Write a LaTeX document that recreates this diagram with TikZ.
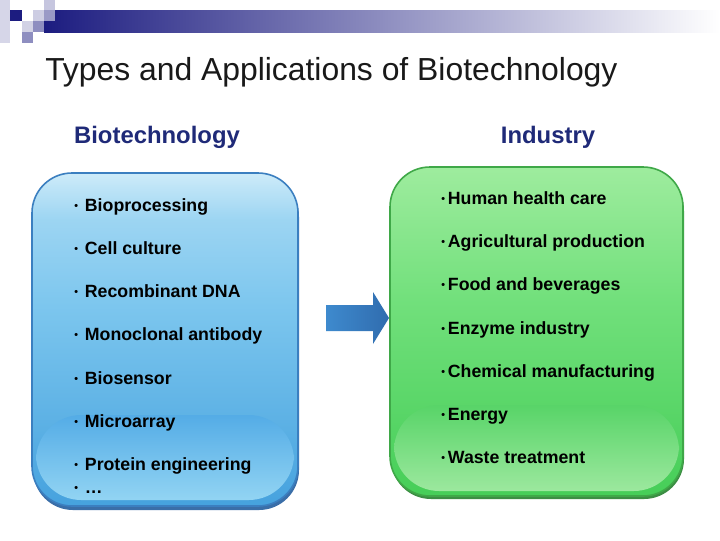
\documentclass[tikz,border=0pt]{standalone}
\usepackage{fontspec}
\setmainfont{Liberation Sans}
\definecolor{navyA}{HTML}{1C1C80}
\definecolor{headC}{HTML}{1F2A78}
\definecolor{blTop}{HTML}{CDEBF9}
\definecolor{blMid}{HTML}{7CC6EE}
\definecolor{blBot}{HTML}{46A2DE}
\definecolor{blEdge}{HTML}{3B7FC0}
\definecolor{blShad}{HTML}{3A6EA8}
\definecolor{blGlTop}{HTML}{54ACE6}
\definecolor{blGlBot}{HTML}{92D4F3}
\definecolor{grTop}{HTML}{9EEC9E}
\definecolor{grMid}{HTML}{72E07C}
\definecolor{grBot}{HTML}{46CE58}
\definecolor{grEdge}{HTML}{3FA848}
\definecolor{grShad}{HTML}{3C8E44}
\definecolor{grGlTop}{HTML}{58D468}
\definecolor{grGlBot}{HTML}{9CE89E}
\definecolor{arL}{HTML}{3E8ACE}
\definecolor{arR}{HTML}{306CAE}
\pgfdeclareverticalshading{blueboxsh}{100bp}{color(0bp)=(blBot); color(25bp)=(blBot); color(55bp)=(blMid); color(68bp)=(blMid!60!blTop); color(75bp)=(blTop); color(100bp)=(blTop)}
\pgfdeclareverticalshading{greenboxsh}{100bp}{color(0bp)=(grBot); color(25bp)=(grBot); color(55bp)=(grMid); color(75bp)=(grTop); color(100bp)=(grTop)}
\newcommand{\lbul}{\raisebox{1.0pt}{\fontsize{8}{8}\selectfont\textbullet}\hspace{5.2pt}}
\newcommand{\rbul}{\raisebox{1.0pt}{\fontsize{8}{8}\selectfont\textbullet}\hspace{2.2pt}}
\tikzset{
  item/.style={anchor=base west, inner sep=0pt, font=\fontsize{13.3}{16}\selectfont\bfseries, text=black},
  head/.style={anchor=base, inner sep=0pt, font=\fontsize{17.9}{21}\selectfont\bfseries, text=headC},
}
\begin{document}
\begin{tikzpicture}[x=0.75pt,y=-0.75pt]
\useasboundingbox[fill=white] (0,0) rectangle (720,540);
% header bar and squares
\shade[left color=navyA, right color=white] (44,10) rectangle (720,32);
\fill[fill=navyA!18] (0,0) rectangle (10,43);
\fill[navyA] (10,10) rectangle (22,21);
\fill[navyA!20] (22,21) rectangle (33,32);
\fill[navyA!22] (33,10) rectangle (44,21);
\fill[navyA!25] (44,0) rectangle (55,10);
\fill[navyA!45] (44,10) rectangle (55,21);
\fill[navyA!50] (33,21) rectangle (44,32);
\fill[navyA!50] (22,32) rectangle (33,43);
% title
\node[anchor=base west, inner sep=0pt, font=\fontsize{23.9}{28}\selectfont, text=black!90] (title) at (45,80) {Types and Applications of Biotechnology};
\node[head] (hbio) at (157,143) {Biotechnology};
\node[head] (hind) at (548,143) {Industry};
% left box
\fill[blShad, rounded corners=30pt] (33,177) rectangle (299,510);
\shade[shading=blueboxsh, rounded corners=30pt] (32,173) rectangle (298,506);
\begin{scope}
\clip[rounded corners=30pt] (32,173) rectangle (298,506);
\shade[top color=blGlTop, bottom color=blGlBot, rounded corners=34pt] (36,415) rectangle (294,500);
\end{scope}
\draw[blEdge, line width=1.2pt, rounded corners=30pt] (32,173) rectangle (298,506);
% right box
\fill[grShad, rounded corners=30pt] (391,171) rectangle (684,499);
\shade[shading=greenboxsh, rounded corners=30pt] (390,167) rectangle (683,496);
\begin{scope}
\clip[rounded corners=30pt] (390,167) rectangle (683,496);
\shade[top color=grGlTop, bottom color=grGlBot, rounded corners=34pt] (394,405) rectangle (679,491);
\end{scope}
\draw[grEdge, line width=1.2pt, rounded corners=30pt] (390,167) rectangle (683,496);
% arrow
\shade[left color=arL, right color=arR] (326,305) -- (373,305) -- (373,292) -- (389,318) -- (373,344) -- (373,331) -- (326,331) -- cycle;
% left items
\node[item] (l1) at (74,211) {\lbul Bioprocessing};
\node[item] (l2) at (74,254) {\lbul Cell culture};
\node[item] (l3) at (74,297) {\lbul Recombinant DNA};
\node[item] (l4) at (74,340) {\lbul Monoclonal antibody};
\node[item] (l5) at (74,384) {\lbul Biosensor};
\node[item] (l6) at (74,427) {\lbul Microarray};
\node[item] (l7) at (74,470) {\lbul Protein engineering};
\node[item] (l8) at (74,493) {\lbul \dots};
% right items
\node[item] (r1) at (441,204) {\rbul Human health care};
\node[item] (r2) at (441,247) {\rbul Agricultural production};
\node[item] (r3) at (441,290) {\rbul Food and beverages};
\node[item] (r4) at (441,334) {\rbul Enzyme industry};
\node[item] (r5) at (441,377) {\rbul Chemical manufacturing};
\node[item] (r6) at (441,420) {\rbul Energy};
\node[item] (r7) at (441,463) {\rbul Waste treatment};
\end{tikzpicture}
\end{document}
